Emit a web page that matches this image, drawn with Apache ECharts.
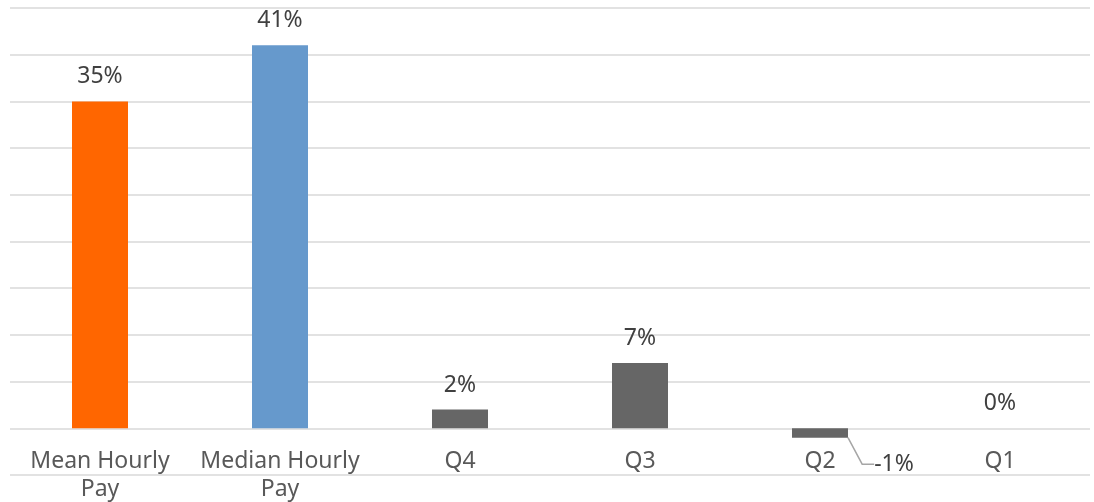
<!DOCTYPE html>
<html>
<head>
<meta charset="utf-8">
<script src="https://cdn.jsdelivr.net/npm/echarts@6/dist/echarts.min.js"></script>
<style>
  html, body { margin: 0; padding: 0; background: #fff; }
  #main { width: 1094px; height: 502px; }
</style>
</head>
<body>
<div id="main"></div>
<script>
// categories and pay gap values (%)
var categories = ['Mean Hourly\nPay', 'Median Hourly\nPay', 'Q4', 'Q3', 'Q2', 'Q1'];
var gapValues = [35, 41, 2, 7, -1, 0];
var barColors = ['#FF6600', '#6699CC', '#666666', '#666666', '#666666', '#666666'];

var chart = echarts.init(document.getElementById('main'));

var seriesData = gapValues.map(function (v, i) {
  var item = { value: v, itemStyle: { color: barColors[i] } };
  if (v < 0) {
    // negative bar: label pulled out to the right with a leader line
    item.label = { position: 'bottom', distance: 5 };
    item.labelLine = { show: true, length2: 12, lineStyle: { color: '#A6A6A6', width: 1.5 } };
  }
  return item;
});

chart.setOption({
  animation: false,
  textStyle: { fontFamily: 'Noto Sans' },
  grid: { left: 10, right: 4, top: 8, bottom: 27, containLabel: false, outerBoundsMode: 'none' },
  xAxis: {
    type: 'category',
    data: categories,
    // labels hang just under the zero line (one 5% step above the plot bottom)
    offset: -47,
    axisLine: { show: false, onZero: false },
    axisTick: { show: false },
    axisLabel: {
      color: '#595959',
      fontSize: 23,
      lineHeight: 28,
      margin: 19,
      verticalAlign: 'top',
      interval: 0
    }
  },
  yAxis: {
    type: 'value',
    min: -5,
    max: 45,
    interval: 5,
    axisLabel: { show: false },
    axisLine: { show: false },
    axisTick: { show: false },
    splitLine: { lineStyle: { color: '#D9D9D9', width: 1.5 } }
  },
  series: [{
    type: 'bar',
    barWidth: 56,
    data: seriesData,
    label: {
      show: true,
      position: 'top',
      distance: 13,
      color: '#404040',
      fontSize: 23,
      formatter: function (p) { return p.value + '%'; }
    },
    labelLine: { show: false },
    labelLayout: function (params) {
      if (gapValues[params.dataIndex] < 0) {
        return { dx: 74, dy: 10 };
      }
      return {};
    }
  }]
});
</script>
</body>
</html>
